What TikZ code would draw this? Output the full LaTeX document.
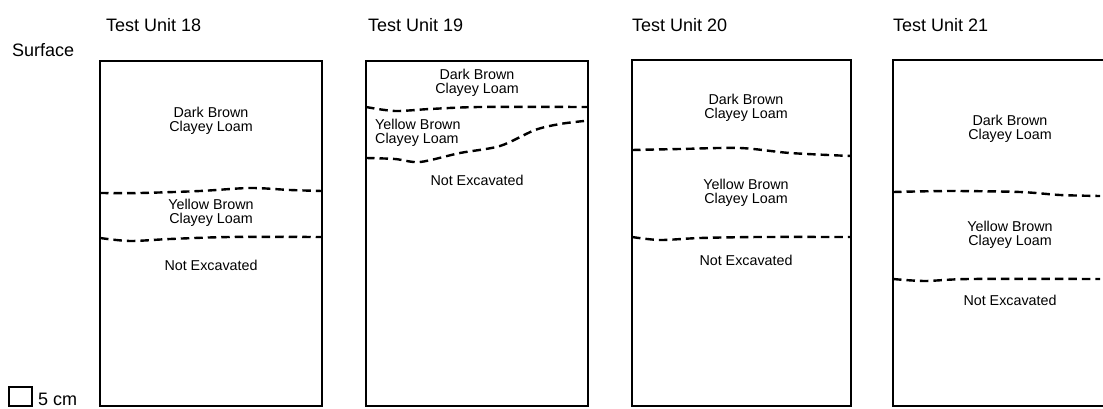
\documentclass[tikz,border=0pt]{standalone}
\usepackage{fontspec}
\setmainfont{Liberation Sans}
\begin{document}
\begin{tikzpicture}[x=1pt,y=-1pt,
  unitbox/.style={line width=2.3pt},
  layer/.style={line width=2.4pt, dash pattern=on 8.5pt off 5pt},
  title/.style={anchor=west, inner sep=0pt, font=\fontsize{18}{20}\selectfont},
  soil/.style={align=center, inner sep=0pt, font=\fontsize{14.3}{14.5}\selectfont}]
\useasboundingbox (0,0) rectangle (1103,409);
% titles
\node[title] (surf) at (12,50) {Surface};
\node[title] (t18) at (106,25) {Test Unit 18};
\node[title] (t19) at (368,25) {Test Unit 19};
\node[title] (t20) at (632,25) {Test Unit 20};
\node[title] (t21) at (893,25) {Test Unit 21};
% scale
\draw[line width=1.8pt] (9,387) rectangle (32,406);
\node[title] (scale) at (38,399) {5 cm};
% boxes
\draw[unitbox] (100,61) rectangle (322,406);
\draw[unitbox] (366,61) rectangle (588,406);
\draw[unitbox] (632,60) rectangle (851,406);
\draw[unitbox] (893,60) rectangle (1115,406);
% Test Unit 18
\draw[layer] plot[smooth] coordinates {(100,193) (140,193) (200,191) (250,188) (290,190) (322,191)};
\draw[layer] plot[smooth] coordinates {(100,238) (130,241) (170,239) (230,237) (322,237)};
\node[soil] (a1) at (211,121) {Dark Brown\\Clayey Loam};
\node[soil] (a2) at (211,213) {Yellow Brown\\Clayey Loam};
\node[soil] (a3) at (211,265) {Not Excavated};
% Test Unit 19
\draw[layer] plot[smooth] coordinates {(366,107) (395,111) (430,109) (480,107) (588,107)};
\draw[layer] plot[smooth] coordinates {(366,158) (395,159) (420,162) (460,153) (500,146) (535,130) (560,124) (584,121)};
\node[soil] (b1) at (477,83) {Dark Brown\\Clayey Loam};
\node[soil, align=left, anchor=west] (b2) at (375,133) {Yellow Brown\\Clayey Loam};
\node[soil] (b3) at (477,180) {Not Excavated};
% Test Unit 20
\draw[layer] plot[smooth] coordinates {(632,150) (680,149) (740,148) (790,153) (851,156)};
\draw[layer] plot[smooth] coordinates {(632,237) (660,240) (700,238) (760,237) (851,237)};
\node[soil] (c1) at (746,108) {Dark Brown\\Clayey Loam};
\node[soil] (c2) at (746,193) {Yellow Brown\\Clayey Loam};
\node[soil] (c3) at (746,260) {Not Excavated};
% Test Unit 21
\draw[layer] plot[smooth] coordinates {(893,192) (950,191) (1020,192) (1060,195) (1100,196)};
\draw[layer] plot[smooth] coordinates {(893,279) (925,281) (970,279) (1100,279)};
\node[soil] (d1) at (1010,129) {Dark Brown\\Clayey Loam};
\node[soil] (d2) at (1010,235) {Yellow Brown\\Clayey Loam};
\node[soil] (d3) at (1010,300) {Not Excavated};
\end{tikzpicture}
\end{document}
